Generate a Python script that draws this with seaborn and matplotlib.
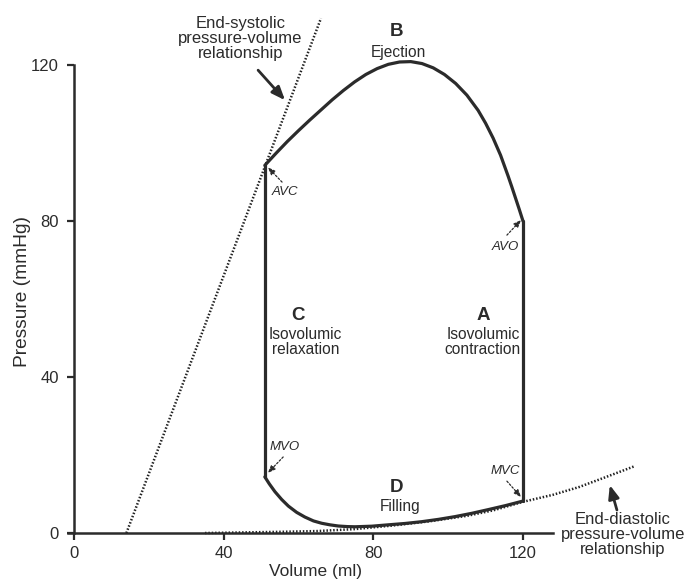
import numpy as np
import pandas as pd
import matplotlib
matplotlib.use("Agg")
import matplotlib.pyplot as plt
import seaborn as sns

# pressure-volume loop (volume ml, pressure mmHg)
eject_vol = [120, 119, 118, 117, 116, 114, 112, 110, 108, 105, 102, 99, 96,
             93, 90, 87, 84, 81, 78, 75, 72, 69, 66, 63, 60, 57, 54, 51]
eject_p = [80, 83.0, 85.9, 88.8, 91.6, 96.9, 101.3, 105.1, 108.4, 112.3, 115.3,
           117.6, 119.3, 120.4, 120.9, 120.8, 120.2, 119.1, 117.6, 115.7, 113.5,
           111.1, 108.5, 105.9, 103.2, 100.4, 97.4, 94.3]
relax_vol = [51, 51]
relax_p = [94.3, 14.4]
fill_vol = [51, 52.2, 53.7, 55.5, 57.3, 59.5, 61.7, 64, 66.2, 68.4, 70.6, 73,
            75.1, 79.6, 84, 88.5, 92.9, 97.4, 101.8, 106.3, 110.7, 115.4, 120]
fill_p = [14.4, 12.6, 10.6, 8.6, 6.9, 5.3, 4.1, 3.1, 2.5, 2.1, 1.8, 1.65,
          1.6, 1.75, 2.1, 2.45, 2.9, 3.5, 4.2, 5.05, 6.0, 7.05, 8.2]
contr_vol = [120, 120]
contr_p = [8.2, 80]

espvr_vol = [14, 66]
espvr_p = [0, 132]
edpvr_vol = [35, 45, 55, 65, 75, 85, 95, 105, 112, 120, 128, 135, 142, 150]
edpvr_p = [0.0, 0.15, 0.3, 0.5, 1.0, 1.9, 3.0, 4.4, 5.8, 8.0, 9.8, 11.8, 14.3, 17.2]

x_ticks = [0, 40, 80, 120]
y_ticks = [0, 40, 80, 120]

sns.set_style("ticks")
plt.rcParams['font.family'] = ['Liberation Sans', 'DejaVu Sans']

ink = "#2b2b2b"
fig = plt.figure(figsize=(6.94, 5.80), dpi=100)
ax = fig.add_axes([0, 0, 1, 1])
ax.set_facecolor("white")

dots = (0, (0.6, 0.75))
sns.lineplot(x=espvr_vol, y=espvr_p, sort=False, estimator=None, ax=ax,
             color="#222222", linewidth=1.8, linestyle=dots)
sns.lineplot(x=edpvr_vol, y=edpvr_p, sort=False, estimator=None, ax=ax,
             color="#222222", linewidth=1.8, linestyle=dots)

loop = pd.concat([
    pd.DataFrame({"vol": contr_vol, "p": contr_p, "seg": "contraction"}),
    pd.DataFrame({"vol": eject_vol, "p": eject_p, "seg": "ejection"}),
    pd.DataFrame({"vol": relax_vol, "p": relax_p, "seg": "relaxation"}),
    pd.DataFrame({"vol": fill_vol, "p": fill_p, "seg": "filling"}),
], ignore_index=True)
for seg, d in loop.groupby("seg", sort=False):
    sns.lineplot(data=d, x="vol", y="p", sort=False, estimator=None, ax=ax,
                 color=ink, linewidth=2.3, solid_capstyle="round",
                 solid_joinstyle="round")

ax.set_xlim(-19.78, 165.7)
ax.set_ylim(-12.05, 136.7)
for s in ["top", "right"]:
    ax.spines[s].set_visible(False)
ax.spines["left"].set_position(("data", 0))
ax.spines["bottom"].set_position(("data", 0))
ax.spines["left"].set_bounds(0, 120)
ax.spines["bottom"].set_bounds(-1.5, 128)
for s in ["left", "bottom"]:
    ax.spines[s].set_color(ink)
    ax.spines[s].set_linewidth(1.8)
ax.set_xticks(x_ticks)
ax.set_yticks(y_ticks)
ax.tick_params(axis="both", length=5, width=1.6, color=ink, labelsize=12,
               labelcolor=ink, direction="out")
ax.tick_params(axis="y", pad=6)
ax.tick_params(axis="x", pad=4)

ax.set_xlabel("Volume (ml)", fontsize=12.5, color=ink)
ax.set_ylabel("Pressure (mmHg)", fontsize=13.8, color=ink)
ax.xaxis.set_label_coords(0.454, 0.014)
ax.yaxis.set_label_coords(0.033, 0.498)
ax.xaxis.label.set_va("center")
ax.yaxis.label.set_va("center")

# phase letters and names
big = dict(fontsize=13.5, fontweight="bold", color=ink, ha="center", va="center")
small = dict(fontsize=11.2, color=ink, ha="center", va="center", linespacing=1.05)
pvr = dict(fontsize=12, color=ink, ha="center", va="center", linespacing=1.0)
ax.text(86.3, 128.5, "B", **big)
ax.text(86.6, 123.3, "Ejection", **small)
ax.text(59.9, 55.9, "C", **big)
ax.text(61.9, 49, "Isovolumic\nrelaxation", **small)
ax.text(109.3, 55.9, "A", **big)
ax.text(109.3, 49, "Isovolumic\ncontraction", **small)
ax.text(86.3, 11.8, "D", **big)
ax.text(87.1, 6.7, "Filling", **small)

ax.text(44.4, 126.7, "End-systolic\npressure-volume\nrelationship", **pvr)
ax.text(146.7, -0.5, "End-diastolic\npressure-volume\nrelationship", **pvr)
ax.annotate("", xy=(56.4, 111), xytext=(49.2, 118.7),
            arrowprops=dict(arrowstyle="-|>,head_length=0.8,head_width=0.32",
                            color=ink, lw=2.0, shrinkA=0, shrinkB=0))
ax.annotate("", xy=(143.2, 12.3), xytext=(145.1, 5.9),
            arrowprops=dict(arrowstyle="-|>,head_length=0.8,head_width=0.32",
                            color=ink, lw=2.0, shrinkA=0, shrinkB=0))

# valve events
valve = dict(fontsize=9.5, style="italic", color=ink, ha="center", va="center")
thin = dict(arrowstyle="-|>,head_length=0.45,head_width=0.18", color=ink,
            lw=0.9, linestyle=(0, (1.5, 1.5)), shrinkA=0, shrinkB=0)
ax.text(56.4, 87.4, "AVC", **valve)
ax.annotate("", xy=(51.8, 93.8), xytext=(55.6, 90), arrowprops=thin)
ax.text(115.2, 73.3, "AVO", **valve)
ax.annotate("", xy=(119.5, 80.3), xytext=(115.7, 76.4), arrowprops=thin)
ax.text(56.4, 22, "MVO", **valve)
ax.annotate("", xy=(51.8, 15.4), xytext=(55.9, 19.5), arrowprops=thin)
ax.text(115.2, 15.9, "MVC", **valve)
ax.annotate("", xy=(119.5, 9.2), xytext=(115.7, 13.3), arrowprops=thin)

fig.savefig("out.png", dpi=100)
